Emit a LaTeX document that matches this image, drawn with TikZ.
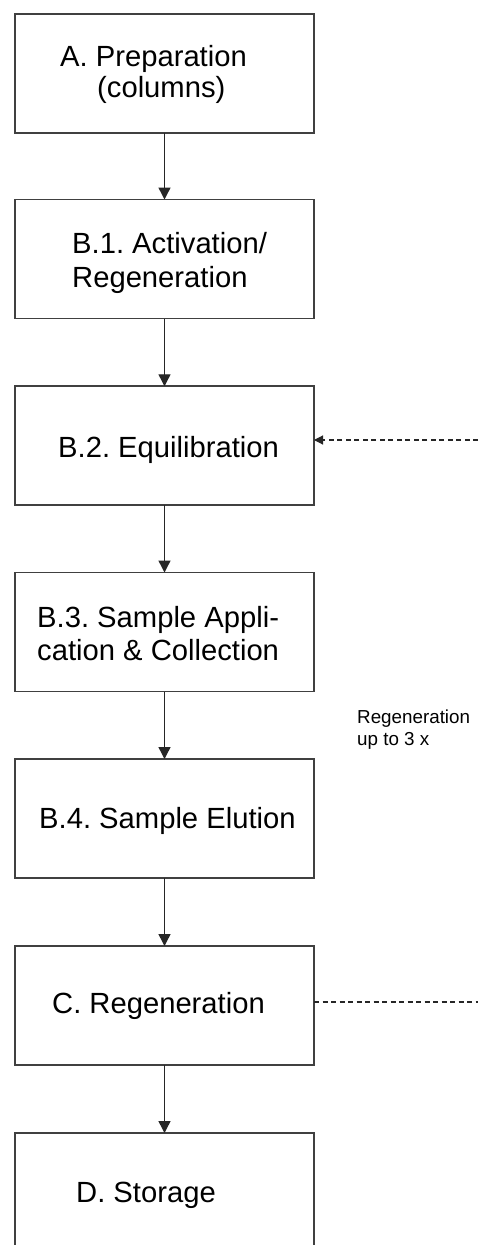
\documentclass[tikz,border=0pt]{standalone}
\usepackage{fontspec}
\setmainfont{Liberation Sans}
\usetikzlibrary{arrows.meta}
\begin{document}
\frenchspacing
\begin{tikzpicture}[x=1pt,y=-1pt,
  stepbox/.style={draw=black!75,line width=1.8pt,minimum width=299pt,minimum height=119pt,inner sep=0pt,outer sep=0pt},
  bigtxt/.style={anchor=base west,inner sep=0pt,font=\fontsize{29.2}{33}\selectfont\frenchspacing},
  smalltxt/.style={anchor=base west,inner sep=0pt,font=\fontsize{18.8}{22}\selectfont\frenchspacing},
  flow/.style={draw=black!85,line width=1.4pt,-{Triangle[length=12pt,width=12pt]}},
  loopline/.style={draw=black!85,line width=1.1pt,dash pattern=on 5pt off 3.5pt}
]
\useasboundingbox (0,0) rectangle (478,1245);
\fill[white] (0,0) rectangle (478,1245);
\node[stepbox] (A)  at (164.5,73.5) {};
\node[stepbox] (B1) at (164.5,259) {};
\node[stepbox] (B2) at (164.5,445.75) {};
\node[stepbox] (B3) at (164.5,632) {};
\node[stepbox] (B4) at (164.5,818.5) {};
\node[stepbox] (C)  at (164.5,1005.5) {};
\node[stepbox] (D)  at (164.5,1192.5) {};

\node[bigtxt] (tA1) at (60,66) {A. Preparation};
\node[bigtxt] (tA2) at (97,97) {(columns)};
\node[bigtxt] (tB11) at (72,253) {B.1. Activation/};
\node[bigtxt] (tB12) at (72,287) {Regeneration};
\node[bigtxt] (tB2) at (58,457) {B.2. Equilibration};
\node[bigtxt] (tB31) at (37,627) {B.3. Sample Appli-};
\node[bigtxt] (tB32) at (37,660) {cation \& Collection};
\node[bigtxt] (tB4) at (39,828) {B.4. Sample Elution};
\node[bigtxt] (tC) at (52,1013) {C. Regeneration};
\node[bigtxt] (tD) at (76,1202) {D. Storage};
\node[smalltxt] (r1) at (357,723) {Regeneration};
\node[smalltxt] (r2) at (357,745) {up to 3 x};

\draw[flow] (A) -- (B1);
\draw[flow] (B1) -- (B2);
\draw[flow] (B2) -- (B3);
\draw[flow] (B3) -- (B4);
\draw[flow] (B4) -- (C);
\draw[flow] (C) -- (D);

\coordinate (rin) at (478,440);
\coordinate (rout) at (478,1002);
\draw[loopline,-{Triangle[length=9pt,width=9pt]}] (rin) -- (B2.east |- rin);
\draw[loopline] (C.east |- rout) -- (rout);
\end{tikzpicture}
\end{document}
